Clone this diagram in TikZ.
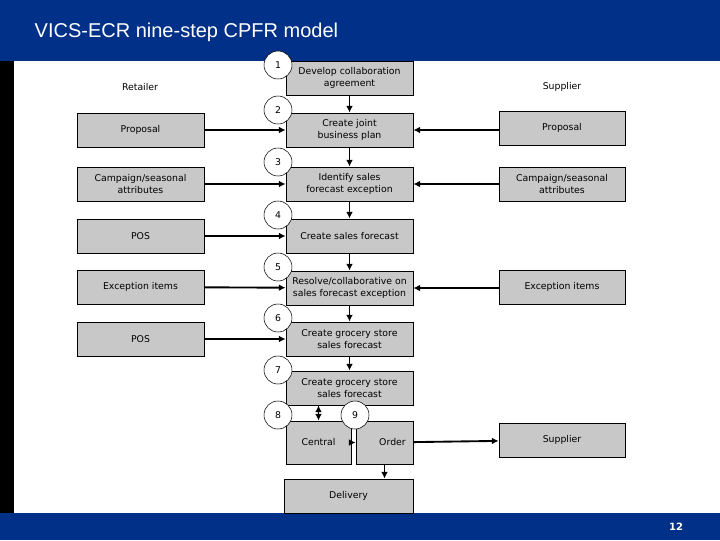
\documentclass[tikz,border=0pt]{standalone}
\usepackage{fontspec}
\setmainfont{DejaVu Sans}
\newfontfamily\titlefont{Liberation Sans}
\usetikzlibrary{arrows.meta}
\definecolor{bar}{HTML}{003087}
\definecolor{boxg}{HTML}{C8C8C8}
\begin{document}
\begin{tikzpicture}[x=0.75pt,y=-0.75pt,
  box/.style={draw=black,fill=boxg,line width=0.6pt,inner sep=0,align=center,font=\fontsize{7}{8.5}\selectfont},
  num/.style={circle,draw=black,fill=white,minimum size=28*0.75pt,inner sep=0,font=\fontsize{7}{8}\selectfont},
  lbl/.style={font=\fontsize{7}{8.5}\selectfont,align=center},
  arr/.style={-{Latex[length=5pt,width=5pt]},line width=1.4pt}]
\useasboundingbox (0,0) rectangle (720,540);
\fill[white] (0,0) rectangle (720,540);
\fill[bar] (0,0) rectangle (720,61);
\fill[black] (0,61) rectangle (14,513);
\fill[bar] (0,513) rectangle (720,540);
\node[anchor=west,text=white,font=\titlefont\fontsize{15}{18}\selectfont] (title) at (30,32) {VICS-ECR nine-step CPFR model};
\node[text=white,font=\bfseries\fontsize{7.5}{9}\selectfont] (page) at (676,527) {12};
% central boxes
\newcommand{\cbox}[4]{\node[box,minimum width=127*0.75pt,minimum height=34*0.75pt] (#1) at (349.5,#2) {#3};}
\cbox{b1}{78}{Develop collaboration\\agreement}{}
\cbox{b2}{130}{Create joint\\business plan}{}
\cbox{b3}{184}{Identify sales\\forecast exception}{}
\cbox{b4}{236}{Create sales forecast}{}
\cbox{b5}{288}{Resolve/collaborative on\\sales forecast exception}{}
\cbox{b6}{339}{Create grocery store\\sales forecast}{}
\cbox{b7}{388}{Create grocery store\\sales forecast}{}
\node[box,minimum width=65*0.75pt,minimum height=43*0.75pt] (central) at (318.5,442.5) {Central};
\node[box,minimum width=57*0.75pt,minimum height=43*0.75pt] (order) at (384.5,442.5) {\hspace*{12pt}Order};
\node[box,minimum width=129*0.75pt,minimum height=34*0.75pt] (delivery) at (348.5,496) {Delivery};
% left boxes
\newcommand{\lbox}[3]{\node[box,minimum width=127*0.75pt,minimum height=34*0.75pt] (#1) at (140.5,#2) {#3};}
\lbox{l2}{130}{Proposal}
\lbox{l3}{184}{Campaign/seasonal\\attributes}
\lbox{l4}{236}{POS}
\lbox{l5}{287}{Exception items}
\lbox{l6}{339}{POS}
\newcommand{\rbox}[3]{\node[box,minimum width=126*0.75pt,minimum height=34*0.75pt] (#1) at (562,#2) {#3};}
\rbox{r2}{128}{Proposal}
\rbox{r3}{184}{Campaign/seasonal\\attributes}
\rbox{r5}{287}{Exception items}
\rbox{r9}{440}{Supplier}
\node[lbl] (retailer) at (140,87) {Retailer};
\node[lbl] (supplier) at (562,87) {Supplier};
% arrows
\draw[arr] (b1) -- (b2);
\draw[arr] (b2) -- (b3);
\draw[arr] (b3) -- (b4);
\draw[arr] (b4) -- (b5);
\draw[arr] (b5) -- (b6);
\draw[arr] (b6) -- (b7);
\draw[arr] (b7.south -| central.north) ++(0,0) coordinate (c7) ;
\draw[arr] (c7) -- (central.north);
\draw[arr] (central) -- (order);
\draw[arr] (order) -- (r9);
\draw[arr] (order.south) -- (order.south |- delivery.north);
\foreach \i in {2,3,4,5,6} \draw[arr] (l\i) -- (b\i);
\foreach \i in {2,3,5} \draw[arr] (r\i.west |- b\i) -- (b\i);
% circles
\node[num] (n1) at (278,65) {1};
\node[num] (n2) at (278,110) {2};
\node[num] (n3) at (278,162) {3};
\node[num] (n4) at (278,215) {4};
\node[num] (n5) at (278,267) {5};
\node[num] (n6) at (278,318) {6};
\node[num] (n7) at (278,370) {7};
\node[num] (n8) at (278,415) {8};
\node[num] (n9) at (355,415) {9};
\end{tikzpicture}
\end{document}
